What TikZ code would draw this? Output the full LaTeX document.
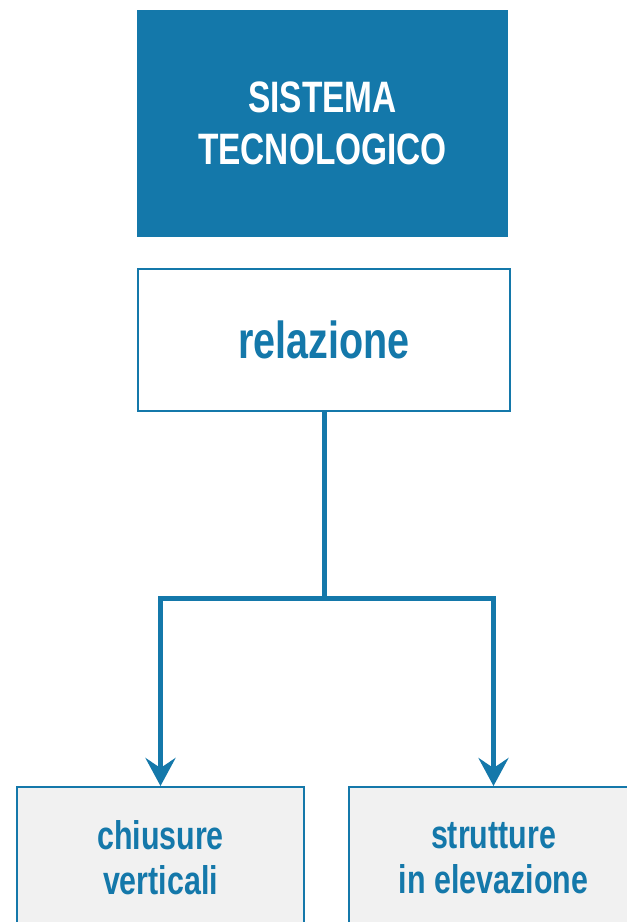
\documentclass[tikz,border=0pt]{standalone}
\usepackage{fontspec}
\setmainfont{Liberation Sans}[FakeStretch=0.76]
\usetikzlibrary{arrows.meta}
\definecolor{mainblue}{RGB}{20,120,170}
\definecolor{boxgray}{RGB}{241,241,241}
\begin{document}
\begin{tikzpicture}[x=1pt,y=-1pt,
  topbox/.style={fill=mainblue, minimum width=371pt, minimum height=227pt, inner sep=0pt,
    text=white, align=center, font=\bfseries\fontsize{44}{52}\selectfont},
  midbox/.style={draw=mainblue, line width=2pt, fill=white, minimum width=372pt, minimum height=142pt,
    inner sep=0pt, text=mainblue, font=\bfseries\fontsize{52}{58}\selectfont},
  lowbox/.style={draw=mainblue, line width=2pt, fill=boxgray, minimum height=142pt, inner sep=0pt,
    text=mainblue, align=center, font=\bfseries\fontsize{40}{45}\selectfont},
  conn/.style={draw=mainblue, line width=5pt},
  tip/.style={-{Stealth[length=28pt,width=30pt,inset=10pt]}}
]
\useasboundingbox (0,0) rectangle (627,922);
\clip (0,0) rectangle (627,922);
\node[topbox] (sys) at (322.5,123.5) {SISTEMA\\TECNOLOGICO};
\node[midbox] (rel) at (324,340) {relazione};
\node[lowbox, minimum width=287pt] (chv) at (160.5,858) {chiusure\\verticali};
\node[lowbox, minimum width=289pt] (str) at (493.5,858) {strutture\\in elevazione};
\coordinate (j) at (324,598);
\draw[conn] (rel.south) -- (j);
\draw[conn, tip] (j) -| (chv.north);
\draw[conn, tip] (j) -| (str.north);
\end{tikzpicture}
\end{document}
